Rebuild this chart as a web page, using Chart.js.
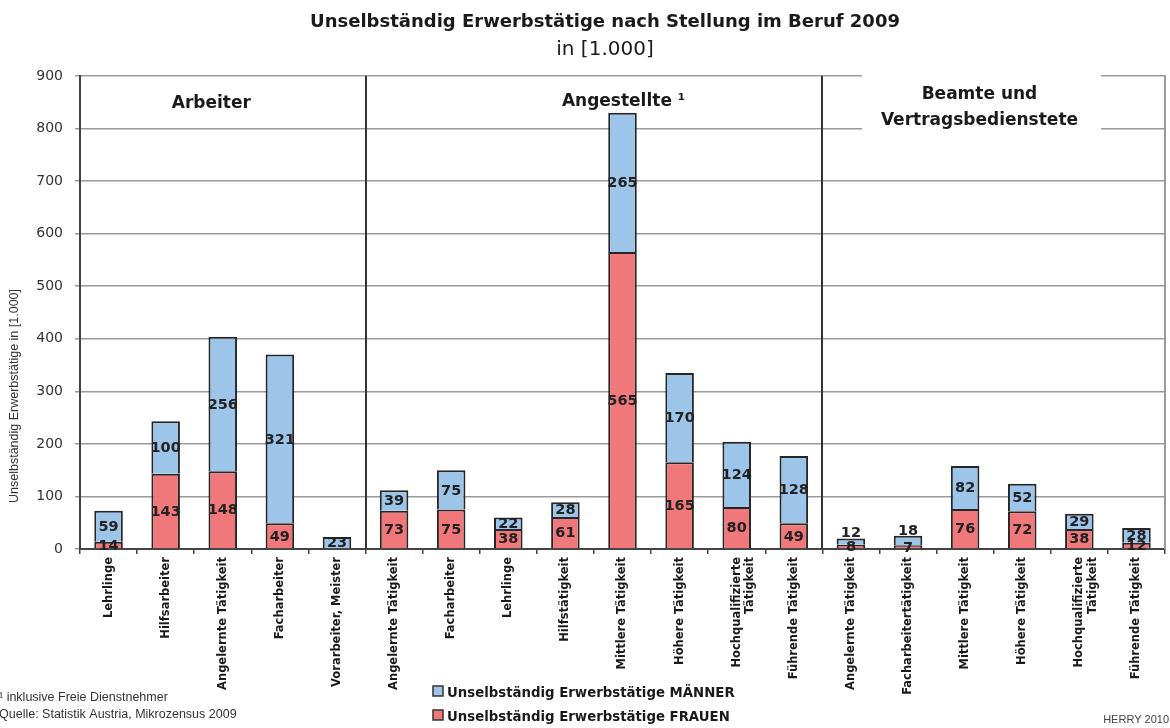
<!DOCTYPE html>
<html>
<head>
<meta charset="utf-8">
<script src="https://cdn.jsdelivr.net/npm/chart.js@4/dist/chart.umd.min.js"></script>
<style>
  html, body { margin: 0; padding: 0; background: #fff; }
  canvas { display: block; }
</style>
</head>
<body>
<canvas id="chart" width="1170" height="728"></canvas>
<script>
/* Unselbständig Erwerbstätige nach Stellung im Beruf 2009 — stacked bars, in 1.000 */

const categories = [
  'Lehrlinge', 'Hilfsarbeiter', 'Angelernte Tätigkeit', 'Facharbeiter', 'Vorarbeiter, Meister',
  'Angelernte Tätigkeit', 'Facharbeiter', 'Lehrlinge', 'Hilfstätigkeit', 'Mittlere Tätigkeit',
  'Höhere Tätigkeit', ['Hochqualifizierte', 'Tätigkeit'], 'Führende Tätigkeit',
  'Angelernte Tätigkeit', 'Facharbeitertätigkeit', 'Mittlere Tätigkeit', 'Höhere Tätigkeit',
  ['Hochqualifizierte', 'Tätigkeit'], 'Führende Tätigkeit'
];
const frauen  = [14, 143, 148, 49, null, 73, 75, 38, 61, 565, 165, 80, 49, 8, 7, 76, 72, 38, 12];
const maenner = [59, 100, 256, 321, 23, 39, 75, 22, 28, 265, 170, 124, 128, 12, 18, 82, 52, 29, 28];

const groupNames  = [['Arbeiter'], ['Angestellte ¹'], ['Beamte und', 'Vertragsbedienstete']];
const groupStarts = [0, 5, 13];

const seriesNames = ['Unselbständig Erwerbstätige MÄNNER', 'Unselbständig Erwerbstätige FRAUEN'];
const yMax = 900, yStep = 100;

const BLUE = '#9dc5ea', RED = '#f0787a', EDGE = '#262626';
const SANS = '"DejaVu Sans", sans-serif';
const LIB  = '"Liberation Sans", Arial, sans-serif';

/* ── value labels inside the stacks ───────────────────────────────── */
const valueLabels = {
  id: 'valueLabels',
  afterDatasetsDraw(chart) {
    const ctx = chart.ctx;
    ctx.save();
    ctx.font = 'bold 14.5px ' + SANS;
    ctx.fillStyle = '#222';
    ctx.textAlign = 'center';
    ctx.textBaseline = 'middle';
    chart.data.datasets.forEach((ds, di) => {
      chart.getDatasetMeta(di).data.forEach((bar, i) => {
        const v = ds.data[i];
        if (!v) return;
        let y = (bar.y + bar.base) / 2;
        // short top segment sitting on a labelled one: put label above the bar
        if (di === 1 && bar.base - bar.y < 10 && frauen[i]) y = bar.y - 6;
        ctx.fillText(String(v), bar.x, y + 1);
      });
    });
    ctx.restore();
  }
};

/* ── separators, group captions, titles, legend, notes ───────────── */
const decorations = {
  id: 'decorations',
  beforeDatasetsDraw(chart) {
    const { ctx, chartArea: a, scales: { x } } = chart;
    ctx.save();
    // white box behind the "Beamte" caption (hides grid lines)
    ctx.fillStyle = '#fff';
    ctx.fillRect(a.left + a.width * 0.7207, a.top - 2, a.width * 0.2203, 56);
    // group separators
    ctx.strokeStyle = '#333';
    ctx.lineWidth = 2;
    groupStarts.slice(1).forEach(s => {
      const px = Math.round((x.getPixelForValue(s - 1) + x.getPixelForValue(s)) / 2);
      ctx.beginPath(); ctx.moveTo(px, a.top); ctx.lineTo(px, a.bottom); ctx.stroke();
    });
    // right frame
    ctx.strokeStyle = '#9a9a9a';
    ctx.beginPath(); ctx.moveTo(a.right, a.top - 1); ctx.lineTo(a.right, a.bottom); ctx.stroke();
    ctx.restore();
  },
  afterDraw(chart) {
    const { ctx, chartArea: a } = chart;
    ctx.save();
    ctx.fillStyle = '#1a1a1a';
    ctx.textAlign = 'center';
    ctx.textBaseline = 'alphabetic';

    // titles
    ctx.font = 'bold 18px ' + SANS;
    ctx.fillText('Unselbständig Erwerbstätige nach Stellung im Beruf 2009', 605, 27);
    ctx.font = '20px ' + SANS;
    ctx.fillText('in [1.000]', 605, 55);

    // group captions
    ctx.font = 'bold 17px ' + SANS;
    const capX = [0.121, 0.501, 0.829];
    const capY = [[108], [106], [99, 125]];
    groupNames.forEach((lines, g) => {
      lines.forEach((t, li) => ctx.fillText(t, a.left + a.width * capX[g], capY[g][li]));
    });

    // y axis title
    ctx.save();
    ctx.translate(18, 396);
    ctx.rotate(-Math.PI / 2);
    ctx.font = '12.5px ' + LIB;
    ctx.fillStyle = '#333';
    ctx.fillText('Unselbständig Erwerbstätige in [1.000]', 0, 0);
    ctx.restore();

    // legend
    ctx.textAlign = 'left';
    ctx.font = 'bold 13.3px ' + SANS;
    [BLUE, RED].forEach((c, i) => {
      const y = 686 + i * 24;
      ctx.fillStyle = c;
      ctx.fillRect(433, y, 10, 10);
      ctx.strokeStyle = '#333';
      ctx.lineWidth = 1.5;
      ctx.strokeRect(433, y, 10, 10);
      ctx.fillStyle = '#1a1a1a';
      ctx.fillText(seriesNames[i], 447, y + 11);
    });

    // notes
    ctx.fillStyle = '#333';
    ctx.font = '12.5px ' + LIB;
    ctx.fillText('¹ inklusive Freie Dienstnehmer', -1, 701);
    ctx.fillText('Quelle: Statistik Austria, Mikrozensus 2009', -1, 718);
    ctx.textAlign = 'right';
    ctx.font = '11px ' + LIB;
    ctx.fillStyle = '#444';
    ctx.fillText('HERRY 2010', 1169, 723);
    ctx.restore();
  }
};

new Chart(document.getElementById('chart').getContext('2d'), {
  type: 'bar',
  data: {
    labels: categories,
    datasets: [
      { label: seriesNames[1], data: frauen,  backgroundColor: RED,  borderColor: EDGE, borderWidth: 2 },
      { label: seriesNames[0], data: maenner, backgroundColor: BLUE, borderColor: EDGE, borderWidth: 2 }
    ]
  },
  options: {
    responsive: false,
    animation: false,
    devicePixelRatio: 1,
    layout: { padding: { left: 0, top: 76, right: 5, bottom: 0 } },
    datasets: { bar: { barPercentage: 0.5, categoryPercentage: 1 } },
    plugins: { legend: { display: false }, tooltip: { enabled: false } },
    scales: {
      x: {
        stacked: true,
        afterFit: s => { s.height = 179; },
        grid: { drawOnChartArea: false, offset: true, tickLength: 5, color: '#444', lineWidth: 1.5 },
        border: { color: '#444', width: 2 },
        ticks: {
          autoSkip: false, maxRotation: 90, minRotation: 90, padding: 3,
          color: '#1a1a1a', font: { family: SANS, size: 11.5, weight: 'bold' }
        }
      },
      y: {
        stacked: true,
        min: 0, max: yMax,
        afterFit: s => { s.width = 80; },
        grid: { color: '#9a9a9a', lineWidth: 1.5, tickLength: 5 },
        border: { color: '#444', width: 2 },
        ticks: { stepSize: yStep, padding: 12, color: '#333', font: { family: SANS, size: 14 } }
      }
    }
  },
  plugins: [decorations, valueLabels]
});
</script>
</body>
</html>
